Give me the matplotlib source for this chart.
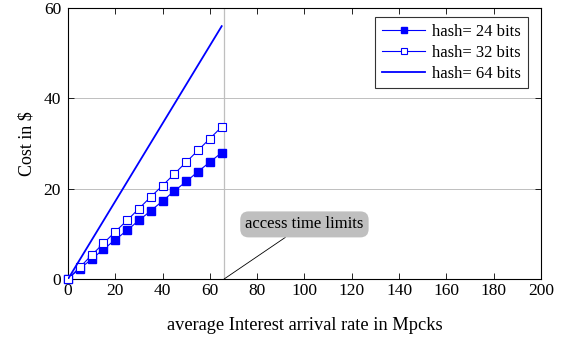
import matplotlib.pyplot as plt
import matplotlib as mpl

# 刻度线朝内，字体用类 Times 的衬线体
mpl.rcParams['xtick.direction'] = 'in'
mpl.rcParams['ytick.direction'] = 'in'
mpl.rcParams['font.family'] = ['Liberation Serif', 'DejaVu Serif']
mpl.rcParams['mathtext.fontset'] = 'stix'

# 数据
rate = [0, 5, 10, 15, 20, 25, 30, 35, 40, 45, 50, 55, 60, 65]
cost_24 = [0.1, 2.3, 4.4, 6.6, 8.7, 10.8, 13.0, 15.1, 17.3, 19.5, 21.6, 23.8, 25.9, 28.0]
cost_32 = [0.1, 2.6, 5.3, 7.9, 10.5, 13.0, 15.6, 18.2, 20.7, 23.3, 25.9, 28.5, 31.1, 33.7]
rate_64 = [0, 65]
cost_64 = [0, 56.0]
limit_x = 66
x_ticks = [0, 20, 40, 60, 80, 100, 120, 140, 160, 180, 200]
y_ticks = [0, 20, 40, 60]

fig = plt.figure(figsize=(5.64, 3.37), dpi=100)
ax = fig.add_axes([0.1206, 0.172, 0.8384, 0.804])

blue = '#0000ff'
ax.plot(rate, cost_24, color=blue, linewidth=0.8, marker='s', markersize=5.2,
        markerfacecolor=blue, markeredgecolor=blue, label='hash= 24 bits',
        zorder=3, clip_on=False)
ax.plot(rate, cost_32, color=blue, linewidth=0.8, marker='s', markersize=5.2,
        markerfacecolor='white', markeredgecolor=blue, markeredgewidth=0.8,
        label='hash= 32 bits', zorder=3, clip_on=False)
ax.plot(rate_64, cost_64, color=blue, linewidth=1.3, label='hash= 64 bits', zorder=3)

# 访问时间限制竖线
ax.axvline(limit_x, color='#bfbfbf', linewidth=0.9, zorder=1)

ax.annotate('access time limits', xy=(limit_x, 0), xytext=(100, 12.1),
            ha='center', va='center', fontsize=12,
            bbox=dict(boxstyle='round,pad=0.3,rounding_size=0.5', fc='#bfbfbf', ec='none'),
            arrowprops=dict(arrowstyle='-', color='black', linewidth=0.6,
                            shrinkA=0, shrinkB=0))

ax.set_xlim(0, 200)
ax.set_ylim(0, 60)
ax.set_xticks(x_ticks)
ax.set_yticks(y_ticks)
ax.tick_params(axis='both', which='major', labelsize=12.5, length=4, width=0.6,
               top=True, right=True, pad=3)
ax.tick_params(axis='y', pad=5)
ax.yaxis.grid(True, color='#bfbfbf', linewidth=0.7)
ax.set_axisbelow(True)
for s in ax.spines.values():
    s.set_linewidth(0.8)

ax.set_xlabel('average Interest arrival rate in Mpcks', fontsize=13.2, labelpad=13)
ax.set_ylabel('Cost in \\$', fontsize=13, labelpad=6)

leg = ax.legend(loc='upper right', fontsize=12, frameon=True, fancybox=False,
                edgecolor='black', handlelength=2.6, handletextpad=0.4,
                borderpad=0.4, labelspacing=0.3, borderaxespad=0.0,
                bbox_to_anchor=(0.972, 0.967))
leg.get_frame().set_linewidth(0.8)
for h in leg.legend_handles:
    h.set_markersize(4.5)

fig.savefig('out.png', dpi=100)
